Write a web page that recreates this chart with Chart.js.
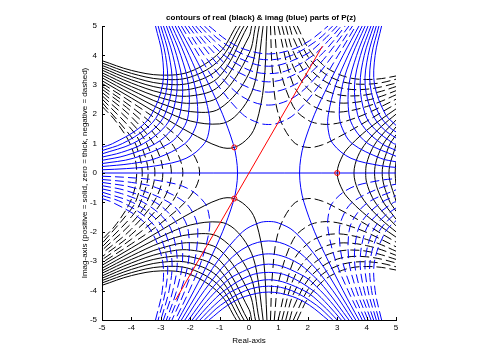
<!DOCTYPE html>
<html>
<head>
<meta charset="utf-8">
<style>
    html, body { margin: 0; padding: 0; background: #fff; }
    canvas { display: block; }
</style>
<script src="https://cdn.jsdelivr.net/npm/chart.js@4/dist/chart.umd.min.js"></script>
</head>
<body>
<canvas id="contourChart" width="481" height="360"></canvas>
<script>
const xTicks = [-5, -4, -3, -2, -1, 0, 1, 2, 3, 4, 5];
const yTicks = [-5, -4, -3, -2, -1, 0, 1, 2, 3, 4, 5];

const rootX = [-0.5, -0.5, 3];
const rootY = [0.87, -0.87, 0];
const redLineX = [-2.5, 2.5];
const redLineY = [-4.32, 4.32];

const blackSolidTopLeft = [
    [-5,3.14, -4,2.55, -3,1.95, -2,1.37, -1,.89, -.5,.87, 0,1.22, .25,1.7, .5,2.96, .61,5],
    [-5,3.24, -4,2.69, -3,2.17, -2,1.77, -1,1.67, -.5,1.9, 0,2.55, .25,3.3, .48,5],
    [-5,3.33, -4,2.82, -3,2.37, -2,2.09, -1,2.19, 0,3.39, .35,5],
    [-5,3.41, -4,2.94, -3,2.56, -2,2.37, -1,2.61, 0,4.06, .22,5],
    [-5,3.5, -4,3.06, -3,2.73, -2,2.62, -1,2.97, 0,4.64, .09,5],
    [-5,3.58, -4,3.17, -3,2.89, -2,2.85, -1,3.29, -.04,5],
    [-5,3.66, -4,3.28, -3,3.04, -2,3.06, -1,3.58, -.17,5],
    [-5,3.74, -4,3.39, -3,3.19, -2,3.26, -1,3.85, -.3,5],
    [-5,3.82, -4,3.49, -3,3.33, -2,3.45, -1,4.1, -.43,5]
];
const blackSolidBottomLeft = [
    [-5,-3.14, -4,-2.55, -3,-1.95, -2,-1.37, -1,-.89, -.5,-.87, 0,-1.22, .25,-1.7, .5,-2.96, .61,-5],
    [-5,-3.24, -4,-2.69, -3,-2.17, -2,-1.77, -1,-1.67, -.5,-1.9, 0,-2.55, .25,-3.3, .48,-5],
    [-5,-3.33, -4,-2.82, -3,-2.37, -2,-2.09, -1,-2.19, 0,-3.39, .35,-5],
    [-5,-3.41, -4,-2.94, -3,-2.56, -2,-2.37, -1,-2.61, 0,-4.06, .22,-5],
    [-5,-3.5, -4,-3.06, -3,-2.73, -2,-2.62, -1,-2.97, 0,-4.64, .09,-5],
    [-5,-3.58, -4,-3.17, -3,-2.89, -2,-2.85, -1,-3.29, -.04,-5],
    [-5,-3.66, -4,-3.28, -3,-3.04, -2,-3.06, -1,-3.58, -.17,-5],
    [-5,-3.74, -4,-3.39, -3,-3.19, -2,-3.26, -1,-3.85, -.3,-5],
    [-5,-3.82, -4,-3.49, -3,-3.33, -2,-3.45, -1,-4.1, -.43,-5]
];
const blackSolidRight = [
    [5,2.18, 4.5,1.83, 4,1.45, 3.5,.99, 3.2,.62, 3,0, 3.2,-.62, 3.5,-.99, 4,-1.45, 4.5,-1.83, 5,-2.18],
    [5,2, 4.5,1.58, 4,1.05, 3.7,.56, 3.57,0, 3.7,-.56, 4,-1.05, 4.5,-1.58, 5,-2],
    [5,1.8, 4.5,1.27, 4.2,.84, 4,.32, 3.97,0, 4,-.32, 4.2,-.84, 4.5,-1.27, 5,-1.8],
    [5,1.57, 4.5,.86, 4.27,0, 4.5,-.86, 5,-1.57],
    [5,1.3, 4.75,.89, 4.53,0, 4.75,-.89, 5,-1.3],
    [5,.96, 4.76,0, 5,-.96],
    [5,.39, 4.97,0, 5,-.39]
];
const blackDashLeft = [
    [-5,3.05, -4,2.41, -3,1.71, -2,.79, -1.68,0, -2,-.79, -3,-1.71, -4,-2.41, -5,-3.05],
    [-5,2.95, -4,2.25, -3,1.41, -2.5,.8, -2.25,0, -2.5,-.8, -3,-1.41, -4,-2.25, -5,-2.95],
    [-5,2.85, -4,2.09, -3,1.04, -2.64,0, -3,-1.04, -4,-2.09, -5,-2.85],
    [-5,2.74, -4,1.91, -3.2,.92, -2.93,0, -3.2,-.92, -4,-1.91, -5,-2.74],
    [-5,2.63, -4,1.71, -3.5,1.04, -3.2,0, -3.5,-1.04, -4,-1.71, -5,-2.63],
    [-5,2.52, -4,1.49, -3.7,1.02, -3.43,0, -3.7,-1.02, -4,-1.49, -5,-2.52],
    [-5,2.4, -4,1.22, -3.8,.83, -3.63,0, -3.8,-.83, -4,-1.22, -5,-2.4],
    [-5,2.27, -4.5,1.72, -4,.89, -3.82,0, -4,-.89, -4.5,-1.72, -5,-2.27]
];
const blackDashTopRight = [
    [.73,5, .8,3.4, 1,2, 1.5,1.07, 2,.87, 2.5,.96, 3,1.2, 3.5,1.47, 4,1.76, 4.5,2.06, 5,2.35],
    [.86,5, 1,3.74, 1.5,2.27, 2,1.8, 2.5,1.66, 3,1.69, 3.5,1.83, 4,2.02, 4.5,2.26, 5,2.51],
    [.99,5, 1.5,3.02, 2,2.4, 2.5,2.14, 3,2.07, 3.5,2.13, 4,2.26, 4.5,2.44, 5,2.66],
    [1.12,5, 1.5,3.63, 2,2.87, 2.5,2.53, 3,2.39, 3.5,2.39, 4,2.47, 4.5,2.61, 5,2.8],
    [1.25,5, 1.5,4.14, 2,3.28, 2.5,2.86, 3,2.67, 3.5,2.62, 4,2.66, 4.5,2.78, 5,2.94],
    [1.38,5, 1.5,4.6, 2,3.64, 2.5,3.17, 3,2.93, 3.5,2.84, 4,2.85, 4.5,2.93, 5,3.06],
    [1.51,5, 2,3.97, 2.5,3.44, 3,3.16, 3.5,3.04, 4,3.02, 4.5,3.07, 5,3.19],
    [1.64,5, 2,4.27, 2.5,3.69, 3,3.38, 3.5,3.22, 4,3.18, 4.5,3.21, 5,3.3]
];
const blackDashBottomRight = [
    [.73,-5, .8,-3.4, 1,-2, 1.5,-1.07, 2,-.87, 2.5,-.96, 3,-1.2, 3.5,-1.47, 4,-1.76, 4.5,-2.06, 5,-2.35],
    [.86,-5, 1,-3.74, 1.5,-2.27, 2,-1.8, 2.5,-1.66, 3,-1.69, 3.5,-1.83, 4,-2.02, 4.5,-2.26, 5,-2.51],
    [.99,-5, 1.5,-3.02, 2,-2.4, 2.5,-2.14, 3,-2.07, 3.5,-2.13, 4,-2.26, 4.5,-2.44, 5,-2.66],
    [1.12,-5, 1.5,-3.63, 2,-2.87, 2.5,-2.53, 3,-2.39, 3.5,-2.39, 4,-2.47, 4.5,-2.61, 5,-2.8],
    [1.25,-5, 1.5,-4.14, 2,-3.28, 2.5,-2.86, 3,-2.67, 3.5,-2.62, 4,-2.66, 4.5,-2.78, 5,-2.94],
    [1.38,-5, 1.5,-4.6, 2,-3.64, 2.5,-3.17, 3,-2.93, 3.5,-2.84, 4,-2.85, 4.5,-2.93, 5,-3.06],
    [1.51,-5, 2,-3.97, 2.5,-3.44, 3,-3.16, 3.5,-3.04, 4,-3.02, 4.5,-3.07, 5,-3.19],
    [1.64,-5, 2,-4.27, 2.5,-3.69, 3,-3.38, 3.5,-3.22, 4,-3.18, 4.5,-3.21, 5,-3.3]
];

const blueZero = [
    [-5,0, 5,0],
    [-2.41,5, -1.87,4, -1.36,3, -.9,2, -.54,1, -.43,.5, -.39,0, -.43,-.5, -.54,-1, -.9,-2, -1.36,-3, -1.87,-4, -2.41,-5],
    [3.74,5, 3.2,4, 2.7,3, 2.23,2, 1.87,1, 1.76,.5, 1.72,0, 1.76,-.5, 1.87,-1, 2.23,-2, 2.7,-3, 3.2,-4, 3.74,-5]
];
const blueSolidTopLeft = [
    [-5,.11, -4.16,.15, -3.13,.25, -2.14,.5, -1.52,1, -1.35,1.5, -1.36,2, -1.62,3, -2.03,4, -2.51,5],
    [-5,.22, -4,.32, -3.15,.5, -2.18,1, -1.84,1.5, -1.74,2, -1.85,3, -2.18,4, -2.62,5],
    [-5,.32, -3.94,.5, -2.72,1, -2.25,1.5, -2.06,2, -2.06,3, -2.32,4, -2.72,5],
    [-5,.43, -4.18,.6, -3.18,1, -2.61,1.5, -2.35,2, -2.26,3, -2.46,4, -2.81,5],
    [-5,.54, -4.34,.7, -3.59,1, -2.93,1.5, -2.62,2, -2.44,3, -2.59,4, -2.91,5],
    [-5,.65, -3.96,1, -3.23,1.5, -2.86,2, -2.62,3, -2.72,4, -3,5],
    [-5,.76, -4.31,1, -3.51,1.5, -3.09,2, -2.78,3, -2.84,4, -3.09,5],
    [-5,.87, -4.64,1, -3.77,1.5, -3.31,2, -2.94,3, -2.95,4, -3.18,5]
];
const blueDashBottomLeft = [
    [-5,-.11, -4.16,-.15, -3.13,-.25, -2.14,-.5, -1.52,-1, -1.35,-1.5, -1.36,-2, -1.62,-3, -2.03,-4, -2.51,-5],
    [-5,-.22, -4,-.32, -3.15,-.5, -2.18,-1, -1.84,-1.5, -1.74,-2, -1.85,-3, -2.18,-4, -2.62,-5],
    [-5,-.32, -3.94,-.5, -2.72,-1, -2.25,-1.5, -2.06,-2, -2.06,-3, -2.32,-4, -2.72,-5],
    [-5,-.43, -4.18,-.6, -3.18,-1, -2.61,-1.5, -2.35,-2, -2.26,-3, -2.46,-4, -2.81,-5],
    [-5,-.54, -4.34,-.7, -3.59,-1, -2.93,-1.5, -2.62,-2, -2.44,-3, -2.59,-4, -2.91,-5],
    [-5,-.65, -3.96,-1, -3.23,-1.5, -2.86,-2, -2.62,-3, -2.72,-4, -3,-5],
    [-5,-.76, -4.31,-1, -3.51,-1.5, -3.09,-2, -2.78,-3, -2.84,-4, -3.09,-5],
    [-5,-.87, -4.64,-1, -3.77,-1.5, -3.31,-2, -2.94,-3, -2.95,-4, -3.18,-5]
];
const blueDashTopMid = [
    [-2.3,5, -1.7,4, -1.07,3, -.22,2, .33,1.7, .67,1.65, 1,1.7, 1.55,2, 2.4,3, 3.03,4, 3.63,5],
    [-2.18,5, -1.52,4, -.71,3, -.06,2.5, .67,2.31, 1.39,2.5, 2.04,3, 2.85,4, 3.52,5],
    [-2.06,5, -1.32,4, -.86,3.5, -.22,3, .67,2.75, 1.55,3, 2.19,3.5, 2.65,4, 3.4,5],
    [-1.93,5, -1.55,4.5, -1.1,4, -.51,3.5, .67,3.1, 1.85,3.5, 2.43,4, 2.88,4.5, 3.27,5],
    [-1.81,5, -1.37,4.5, -.84,4, 0,3.5, .67,3.38, 1.33,3.5, 2.18,4, 2.7,4.5, 3.14,5],
    [-1.67,5, -1.18,4.5, -.54,4, .67,3.63, 1.87,4, 2.51,4.5, 3,5],
    [-1.52,5, -.97,4.5, -.11,4, .67,3.85, 1.45,4, 2.3,4.5, 2.85,5],
    [-1.36,5, -.73,4.5, -.13,4.2, .67,4.05, 1.47,4.2, 2.06,4.5, 2.69,5]
];
const blueSolidBottomMid = [
    [-2.3,-5, -1.7,-4, -1.07,-3, -.22,-2, .33,-1.7, .67,-1.65, 1,-1.7, 1.55,-2, 2.4,-3, 3.03,-4, 3.63,-5],
    [-2.18,-5, -1.52,-4, -.71,-3, -.06,-2.5, .67,-2.31, 1.39,-2.5, 2.04,-3, 2.85,-4, 3.52,-5],
    [-2.06,-5, -1.32,-4, -.86,-3.5, -.22,-3, .67,-2.75, 1.55,-3, 2.19,-3.5, 2.65,-4, 3.4,-5],
    [-1.93,-5, -1.55,-4.5, -1.1,-4, -.51,-3.5, .67,-3.1, 1.85,-3.5, 2.43,-4, 2.88,-4.5, 3.27,-5],
    [-1.81,-5, -1.37,-4.5, -.84,-4, 0,-3.5, .67,-3.38, 1.33,-3.5, 2.18,-4, 2.7,-4.5, 3.14,-5],
    [-1.67,-5, -1.18,-4.5, -.54,-4, .67,-3.63, 1.87,-4, 2.51,-4.5, 3,-5],
    [-1.52,-5, -.97,-4.5, -.11,-4, .67,-3.85, 1.45,-4, 2.3,-4.5, 2.85,-5],
    [-1.36,-5, -.73,-4.5, -.13,-4.2, .67,-4.05, 1.47,-4.2, 2.06,-4.5, 2.69,-5]
];
const blueSolidTopRight = [
    [3.85,5, 3.37,4, 2.95,3, 2.7,2, 2.69,1.5, 2.85,1, 3.47,.5, 4.47,.25, 5,.19],
    [3.95,5, 3.51,4, 3.18,3, 3.07,2, 3.18,1.5, 3.51,1, 4.48,.5, 5,.38],
    [4.05,5, 3.66,4, 3.4,3, 3.4,2, 3.59,1.5, 4.05,1, 5,.57],
    [4.15,5, 3.79,4, 3.59,3, 3.69,2, 3.95,1.5, 4.51,1, 5,.77],
    [4.24,5, 3.92,4, 3.78,3, 3.95,2, 4.27,1.5, 4.92,1, 5,.98],
    [4.33,5, 4.05,4, 3.95,3, 4.2,2, 4.57,1.5, 5,1.19],
    [4.42,5, 4.17,4, 4.12,3, 4.42,2, 4.84,1.5, 5,1.4],
    [4.51,5, 4.29,4, 4.27,3, 4.64,2, 5,1.62]
];
const blueDashBottomRight = [
    [3.85,-5, 3.37,-4, 2.95,-3, 2.7,-2, 2.69,-1.5, 2.85,-1, 3.47,-.5, 4.47,-.25, 5,-.19],
    [3.95,-5, 3.51,-4, 3.18,-3, 3.07,-2, 3.18,-1.5, 3.51,-1, 4.48,-.5, 5,-.38],
    [4.05,-5, 3.66,-4, 3.4,-3, 3.4,-2, 3.59,-1.5, 4.05,-1, 5,-.57],
    [4.15,-5, 3.79,-4, 3.59,-3, 3.69,-2, 3.95,-1.5, 4.51,-1, 5,-.77],
    [4.24,-5, 3.92,-4, 3.78,-3, 3.95,-2, 4.27,-1.5, 4.92,-1, 5,-.98],
    [4.33,-5, 4.05,-4, 3.95,-3, 4.2,-2, 4.57,-1.5, 5,-1.19],
    [4.42,-5, 4.17,-4, 4.12,-3, 4.42,-2, 4.84,-1.5, 5,-1.4],
    [4.51,-5, 4.29,-4, 4.27,-3, 4.64,-2, 5,-1.62]
];

const BLACK = '#000000';
const BLUE = '#0000ff';
const RED = '#ff0000';
const DASH = [9, 4];
const FONT = '"Liberation Sans", Arial, sans-serif';

function contourSets(lines, color, dash) {
    return lines.map(flat => {
        const pts = [];
        for (let i = 0; i < flat.length; i += 2) {
            pts.push({ x: flat[i], y: flat[i + 1] });
        }
        return {
            data: pts,
            showLine: true,
            borderColor: color,
            borderWidth: 1,
            borderDash: dash,
            pointRadius: 0,
            tension: 0.35
        };
    });
}

const datasets = [
    {
        // zeros, hollow red circles
        data: rootX.map((x, i) => ({ x: x, y: rootY[i] })),
        showLine: false,
        pointStyle: 'circle',
        pointRadius: 2.5,
        pointBorderColor: RED,
        pointBorderWidth: 1,
        pointBackgroundColor: 'rgba(0,0,0,0)'
    },
    {
        data: redLineX.map((x, i) => ({ x: x, y: redLineY[i] })),
        showLine: true,
        borderColor: RED,
        borderWidth: 1,
        pointRadius: 0
    },
    ...contourSets(blueZero, BLUE, []),
    ...contourSets(blueSolidTopLeft, BLUE, []),
    ...contourSets(blueDashBottomLeft, BLUE, DASH),
    ...contourSets(blueDashTopMid, BLUE, DASH),
    ...contourSets(blueSolidBottomMid, BLUE, []),
    ...contourSets(blueSolidTopRight, BLUE, []),
    ...contourSets(blueDashBottomRight, BLUE, DASH),
    ...contourSets(blackSolidTopLeft, BLACK, []),
    ...contourSets(blackSolidBottomLeft, BLACK, []),
    ...contourSets(blackSolidRight, BLACK, []),
    ...contourSets(blackDashLeft, BLACK, DASH),
    ...contourSets(blackDashTopRight, BLACK, DASH),
    ...contourSets(blackDashBottomRight, BLACK, DASH)
];

// old matlab look: ticks point into the plot, title sits a bit right of centre
const axisExtras = {
    id: 'axisExtras',
    afterDraw(chart) {
        const ctx = chart.ctx;
        const xs = chart.scales.x;
        const ys = chart.scales.y;
        ctx.save();
        ctx.strokeStyle = BLACK;
        ctx.lineWidth = 1;
        ctx.beginPath();
        xTicks.forEach(v => {
            const px = Math.round(xs.getPixelForValue(v)) + 0.5;
            ctx.moveTo(px, ys.bottom);
            ctx.lineTo(px, ys.bottom - 3);
        });
        yTicks.forEach(v => {
            const py = Math.round(ys.getPixelForValue(v)) + 0.5;
            ctx.moveTo(xs.left, py);
            ctx.lineTo(xs.left + 3, py);
        });
        ctx.stroke();
        ctx.fillStyle = BLACK;
        ctx.font = 'bold 8px ' + FONT;
        ctx.textAlign = 'center';
        ctx.textBaseline = 'middle';
        ctx.fillText('contours of real (black) & imag (blue) parts of P(z)', 261, 18);
        ctx.restore();
    }
};

const ctx = document.getElementById('contourChart').getContext('2d');
new Chart(ctx, {
    type: 'scatter',
    data: { datasets: datasets },
    plugins: [axisExtras],
    options: {
        responsive: false,
        animation: false,
        layout: { padding: { left: 0, right: 85, top: 26, bottom: 0 } },
        plugins: { legend: { display: false }, tooltip: { enabled: false } },
        scales: {
            x: {
                type: 'linear',
                min: -5,
                max: 5,
                afterBuildTicks: scale => { scale.ticks = xTicks.map(v => ({ value: v })); },
                afterFit: scale => { scale.height = 40; },
                grid: { drawOnChartArea: false, drawTicks: false },
                border: { color: BLACK, width: 1 },
                ticks: { color: BLACK, padding: 3, maxRotation: 0, font: { family: FONT, size: 8 } },
                title: {
                    display: true,
                    text: 'Real-axis',
                    color: BLACK,
                    font: { family: FONT, size: 8 },
                    padding: { top: 0, bottom: 14 }
                }
            },
            y: {
                type: 'linear',
                min: -5,
                max: 5,
                afterBuildTicks: scale => { scale.ticks = yTicks.map(v => ({ value: v })); },
                afterFit: scale => { scale.width = 102; },
                grid: { drawOnChartArea: false, drawTicks: false },
                border: { color: BLACK, width: 1 },
                ticks: { color: BLACK, padding: 5, font: { family: FONT, size: 8 } },
                title: {
                    display: true,
                    text: 'Imag-axis (positive = solid, zero = thick, negative = dashed)',
                    color: BLACK,
                    font: { family: FONT, size: 8 },
                    padding: { top: 80, bottom: 0 }
                }
            }
        }
    }
});
</script>
</body>
</html>
